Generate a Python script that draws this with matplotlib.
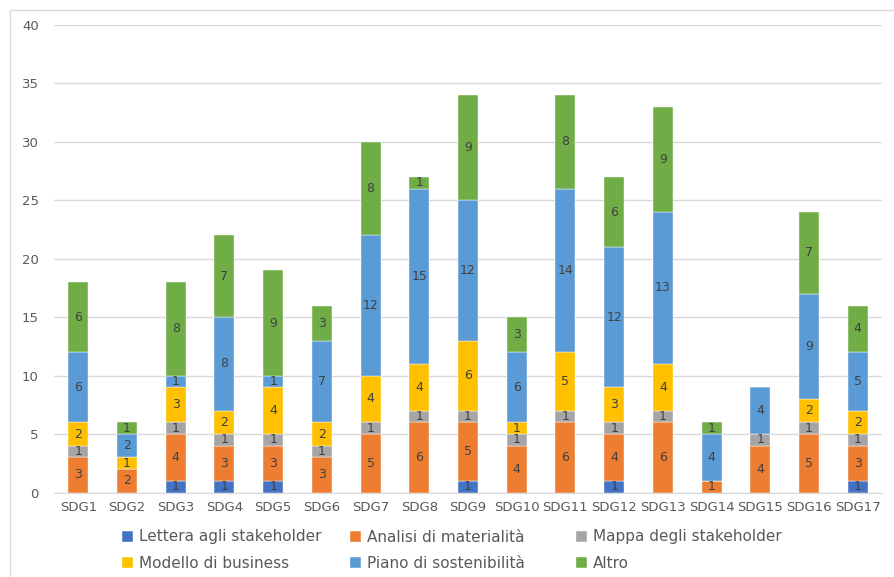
import matplotlib.pyplot as plt
import numpy as np
from matplotlib.patches import Rectangle

categories = ["SDG1", "SDG2", "SDG3", "SDG4", "SDG5", "SDG6", "SDG7", "SDG8", "SDG9",
              "SDG10", "SDG11", "SDG12", "SDG13", "SDG14", "SDG15", "SDG16", "SDG17"]

lettera = [0, 0, 1, 1, 1, 0, 0, 0, 1, 0, 0, 1, 0, 0, 0, 0, 1]
analisi = [3, 2, 4, 3, 3, 3, 5, 6, 5, 4, 6, 4, 6, 1, 4, 5, 3]
mappa = [1, 0, 1, 1, 1, 1, 1, 1, 1, 1, 1, 1, 1, 0, 1, 1, 1]
modello = [2, 1, 3, 2, 4, 2, 4, 4, 6, 1, 5, 3, 4, 0, 0, 2, 2]
piano = [6, 2, 1, 8, 1, 7, 12, 15, 12, 6, 14, 12, 13, 4, 4, 9, 5]
altro = [6, 1, 8, 7, 9, 3, 8, 1, 9, 3, 8, 6, 9, 1, 0, 7, 4]

series_names = ["Lettera agli stakeholder", "Analisi di materialità", "Mappa degli stakeholder",
                "Modello di business", "Piano di sostenibilità", "Altro"]
series_values = [lettera, analisi, mappa, modello, piano, altro]
colors = ["#4472C4", "#ED7D31", "#A5A5A5", "#FFC000", "#5B9BD5", "#70AD47"]

plt.rcParams['font.family'] = ['DejaVu Sans']

fig = plt.figure(figsize=(8.94, 5.77), dpi=100)
ax = fig.add_axes([54 / 894, 1 - 492.5 / 577, 828 / 894, 467.5 / 577])

# chart border (only top/left visible in the reference)
fig.patches.append(Rectangle((10 / 894, -0.1), 1.2, 1 - 10 / 577 + 0.1,
                             transform=fig.transFigure, fill=False,
                             edgecolor="#d9d9d9", linewidth=1))

x = np.arange(len(categories))
bottom = np.zeros(len(categories))
handles = []
for name, vals, col in zip(series_names, series_values, colors):
    vals = np.array(vals, dtype=float)
    rects = ax.bar(x, vals, 0.41, bottom=bottom, color=col, label=name,
                   edgecolor="white", linewidth=0.3)
    handles.append(rects)
    for xi, v, b in zip(x, vals, bottom):
        if v > 0:
            ax.text(xi, b + v / 2, f"{int(v)}", ha="center", va="center",
                    fontsize=9, color="#404040")
    bottom += vals

ax.set_xlim(-0.5, len(categories) - 0.5)
ax.set_ylim(0, 40)
ax.set_yticks(range(0, 41, 5))
ax.set_xticks(x, categories)
ax.yaxis.grid(True, color="#d9d9d9", linewidth=1)
ax.set_axisbelow(True)
for s in ["top", "right", "left"]:
    ax.spines[s].set_visible(False)
ax.spines["bottom"].set_color("#d9d9d9")
ax.tick_params(axis="both", length=0, colors="#595959", labelsize=9.5)
ax.tick_params(axis="y", pad=11)
ax.tick_params(axis="x", pad=6)

# legend as three equal-width columns, two rows (row-major like Excel)
col_x = [122, 350, 576]
for c in range(3):
    idx = [c, c + 3]
    fig.legend([handles[i] for i in idx], [series_names[i] for i in idx],
               loc="center left", bbox_to_anchor=(col_x[c] / 894, 1 - 550 / 577),
               frameon=False, fontsize=11, handlelength=0.72, handleheight=0.72,
               handletextpad=0.4, labelspacing=0.72, borderpad=0, borderaxespad=0,
               labelcolor="#595959")

fig.savefig("out.png", dpi=100)
